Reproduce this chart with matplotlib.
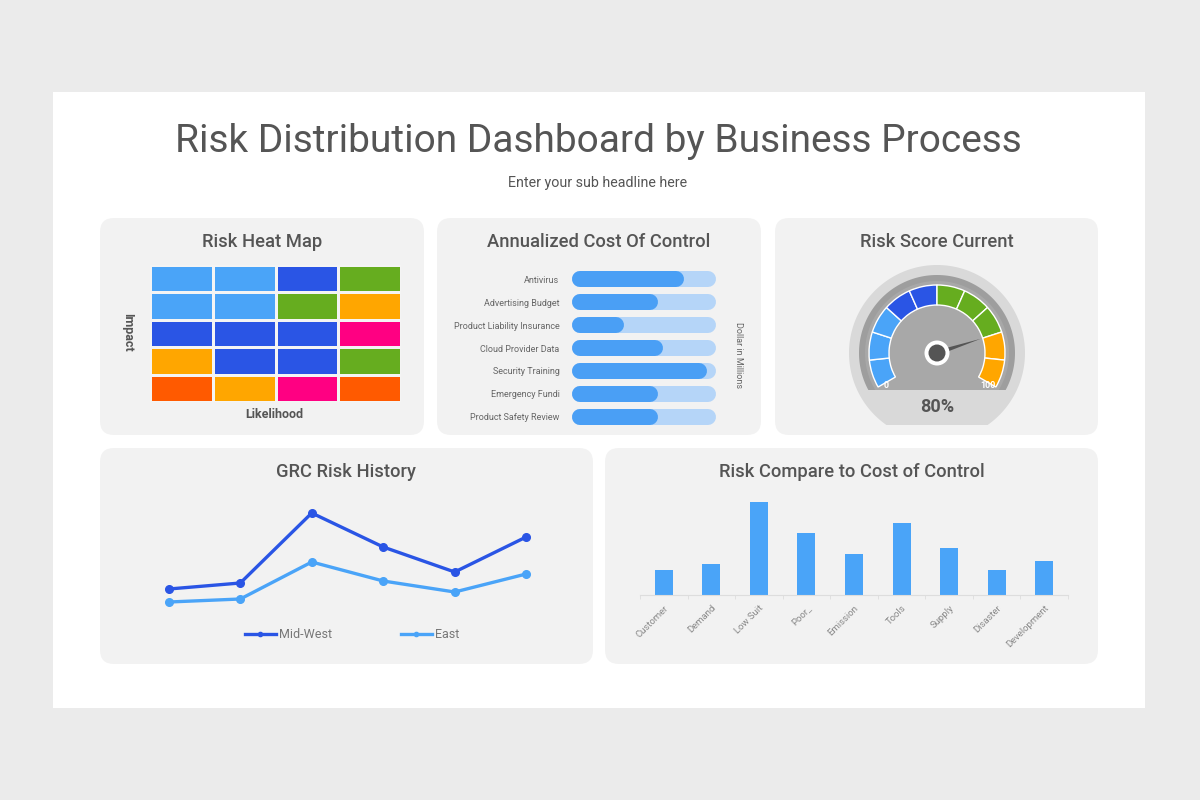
import numpy as np
import matplotlib
matplotlib.use("Agg")
import matplotlib.pyplot as plt
from matplotlib.patches import FancyBboxPatch, Rectangle, Wedge, Circle, Polygon
from matplotlib.colors import ListedColormap

plt.rcParams['font.family'] = ['Roboto', 'DejaVu Sans']

# ---------------- data ----------------
title = "Risk Distribution Dashboard by Business Process"
subtitle = "Enter your sub headline here"

heat_palette = ["#4aa4f8", "#2a55e5", "#66ad1f", "#ffa600", "#ff0082", "#ff5a00"]
heat_levels = [
    [0, 0, 1, 2],
    [0, 0, 2, 3],
    [1, 1, 1, 4],
    [3, 1, 1, 2],
    [5, 3, 4, 5],
]

cost_labels = ["Antivirus", "Advertising Budget", "Product Liability Insurance",
               "Cloud Provider Data", "Security Training", "Emergency Fundi",
               "Product Safety Review"]
cost_values = [0.78, 0.60, 0.36, 0.63, 0.94, 0.60, 0.60]
cost_max = 1.0

gauge_colors = ["#4aa4f8", "#4aa4f8", "#4aa4f8", "#2a55e5", "#2a55e5",
                "#66ad1f", "#66ad1f", "#66ad1f", "#ffa600", "#ffa600"]
risk_score = 80

history_x = [0, 1, 2, 3, 4, 5]
midwest = [15.5, 18.5, 53.5, 36.5, 24.0, 41.5]
east = [9.0, 10.5, 29.0, 19.5, 14.0, 23.0]

compare_labels = ["Customer", "Demand", "Low Suit", "Poor_", "Emission",
                  "Tools", "Supply", "Disaster", "Development"]
compare_values = [25, 31, 93, 62, 41, 72, 47, 25, 34]

# ---------------- styles ----------------
DARK = "#2a55e5"
LIGHT = "#4aa4f8"
TXT = "#555555"
PANEL = "#f2f2f2"

W, H = 1200, 800
fig = plt.figure(figsize=(12, 8), dpi=100)
fig.patch.set_facecolor("#ebebeb")

bg = fig.add_axes([0, 0, 1, 1])
bg.set_xlim(0, W)
bg.set_ylim(H, 0)
bg.axis("off")


def ax_at(x0, y0, x1, y1):
    a = fig.add_axes([x0 / W, 1 - y1 / H, (x1 - x0) / W, (y1 - y0) / H])
    a.set_facecolor("none")
    return a


# white card
bg.add_patch(Rectangle((53, 92), 1092, 616, facecolor="white", edgecolor="none"))

bg.text(598, 142, title, ha="center", va="center", fontsize=28, color=TXT)
bg.text(598, 183, subtitle, ha="center", va="center", fontsize=10.3, color=TXT)

panels = [(100, 218, 424, 435), (437, 218, 761, 435), (775, 218, 1098, 435),
          (100, 448, 593, 664), (605, 448, 1098, 664)]
titles = ["Risk Heat Map", "Annualized Cost Of Control", "Risk Score Current",
          "GRC Risk History", "Risk Compare to Cost of Control"]
for (x0, y0, x1, y1), t in zip(panels, titles):
    bg.add_patch(FancyBboxPatch((x0, y0), x1 - x0, y1 - y0,
                                boxstyle="round,pad=0,rounding_size=14",
                                facecolor=PANEL, edgecolor="none"))
    bg.text((x0 + x1) / 2, y0 + 24, t, ha="center", va="center",
            fontsize=13.2, fontweight="medium", color=TXT)

# ---------------- heat map ----------------
axh = ax_at(150, 265, 401, 402)
arr = np.array(heat_levels)
axh.pcolormesh(arr, cmap=ListedColormap(heat_palette), vmin=-0.5,
               vmax=len(heat_palette) - 0.5, edgecolors="#f4f4f4", linewidth=1.0)
axh.set_xlim(0, arr.shape[1])
axh.set_ylim(arr.shape[0], 0)
axh.axis("off")
bg.text(128, 332, "Impact", rotation=270, ha="center", va="center",
        fontsize=9, fontweight="bold", color=TXT)
bg.text(274, 415, "Likelihood", ha="center", va="center",
        fontsize=9, fontweight="bold", color=TXT)

# ---------------- cost of control ----------------
axc = ax_at(572, 268, 716, 428)
n = len(cost_labels)
ypos = np.arange(n)
px_w = 144.0
r = 8.0 / px_w * cost_max
lw_pt = 16 * 0.72
for i, v in enumerate(cost_values):
    axc.plot([r, cost_max - r], [i, i], color="#b5d5f8", lw=lw_pt,
             solid_capstyle="round")
    axc.plot([r, max(v - r, r)], [i, i], color="#4a9ff5", lw=lw_pt,
             solid_capstyle="round")
axc.set_xlim(0, cost_max)
axc.set_ylim(n - 0.5, -0.5)
axc.set_yticks(ypos)
axc.set_yticklabels(cost_labels, fontsize=6.5, color="#666666")
axc.tick_params(axis="y", length=0, pad=9)
axc.set_xticks([])
for s in axc.spines.values():
    s.set_visible(False)
bg.text(738, 355, "Dollar in Millions", rotation=270, ha="center", va="center",
        fontsize=6.5, color="#666666")

# ---------------- gauge ----------------
axg = ax_at(847, 265, 1027, 425)
axg.set_xlim(-90, 90)
axg.set_ylim(-72, 88)
axg.set_aspect("equal")
axg.axis("off")


def trunc_circle(R, yb, **kw):
    a0 = np.arcsin(yb / R)
    th = np.linspace(a0, np.pi - a0, 200)
    pts = np.column_stack([R * np.cos(th), R * np.sin(th)])
    return Polygon(pts, closed=True, **kw)


axg.add_patch(trunc_circle(88, -72, facecolor="#d9d9d9", edgecolor="none"))
axg.add_patch(trunc_circle(78, -37, facecolor="#9e9e9e", edgecolor="none"))
axg.add_patch(trunc_circle(72, -37, facecolor="#a8a8a8", edgecolor="none"))
start, span = 210.0, 240.0
step = span / len(gauge_colors)
for k, c in enumerate(gauge_colors):
    t1 = start - k * step
    t0 = t1 - step
    axg.add_patch(Wedge((0, 0), 68, t0, t1, width=20, facecolor=c,
                        edgecolor="white", linewidth=1))
ang = np.deg2rad(start - risk_score / 100 * span)
L = 46
perp = ang + np.pi / 2
needle = [(L * np.cos(ang), L * np.sin(ang)),
          (2.5 * np.cos(perp), 2.5 * np.sin(perp)),
          (-2.5 * np.cos(perp), -2.5 * np.sin(perp))]
axg.add_patch(Polygon(needle, closed=True, facecolor="#555555", edgecolor="none"))
axg.add_patch(Circle((0, 0), 12.5, facecolor="white", edgecolor="none"))
axg.add_patch(Circle((0, 0), 8.5, facecolor="#555555", edgecolor="none"))
axg.text(-51, -32, "0", ha="center", va="center", fontsize=6.5,
         fontweight="bold", color="white")
axg.text(51, -32, "100", ha="center", va="center", fontsize=6.5,
         fontweight="bold", color="white")
axg.text(0, -54, f"{risk_score}%", ha="center", va="center", fontsize=13,
         fontweight="bold", color=TXT)

# ---------------- GRC risk history ----------------
axl = ax_at(151, 500, 544, 620)
axl.plot(history_x, midwest, color=DARK, lw=2.4, marker="o", ms=5.5,
         label="Mid-West")
axl.plot(history_x, east, color=LIGHT, lw=2.4, marker="o", ms=5.5,
         label="East")
axl.set_xlim(-0.25, 5.25)
axl.set_ylim(0, 60)
axl.axis("off")
axl.legend(loc="center", bbox_to_anchor=(352 / W, 1 - 635 / H),
           bbox_transform=fig.transFigure, ncol=2, frameon=False,
           fontsize=9, labelcolor="#777777", handlelength=2.5,
           handletextpad=0.25, columnspacing=5.5, markerscale=0.55)

# ---------------- risk compare bar chart ----------------
axb = ax_at(640, 495, 1068, 595)
xb = np.arange(len(compare_values))
axb.bar(xb, compare_values, width=0.38, color="#4aa4f8")
axb.set_xlim(-0.5, len(compare_values) - 0.5)
axb.set_ylim(0, 100)
for s in ["top", "right", "left"]:
    axb.spines[s].set_visible(False)
axb.spines["bottom"].set_color("#dddddd")
axb.set_yticks([])
axb.set_xticks(xb)
axb.set_xticklabels(compare_labels, rotation=45, ha="right",
                    rotation_mode="anchor", fontsize=6.8, color="#888888")
axb.tick_params(axis="x", which="major", length=0, pad=6)
axb.set_xticks(np.arange(-0.5, len(compare_values)), minor=True)
axb.tick_params(axis="x", which="minor", length=3, color="#dddddd")

fig.savefig("out.png", dpi=100, facecolor=fig.get_facecolor())
